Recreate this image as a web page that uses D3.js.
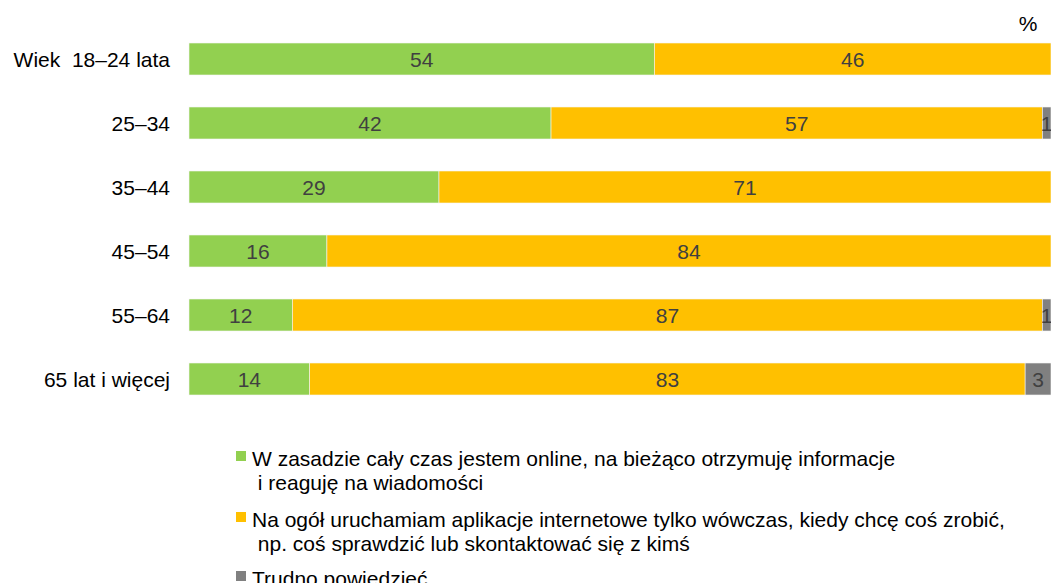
<!DOCTYPE html>
<html lang="pl">
<head>
  <meta charset="UTF-8">
  <title>Korzystanie z internetu wg wieku</title>
  <script src="https://d3js.org/d3.v7.min.js"></script>
  <style>
    body { margin: 0; background: #fff; }
    svg text { font-family: "Liberation Sans", Arial, sans-serif; white-space: pre; }
  </style>
</head>
<body>
<svg width="1051" height="583"></svg>
<script>
  const categories = ["Wiek  18–24 lata", "25–34", "35–44", "45–54", "55–64", "65 lat i więcej"];
  const online = [54, 42, 29, 16, 12, 14];
  const onDemand = [46, 57, 71, 84, 87, 83];
  const hardToSay = [0, 1, 0, 0, 1, 3];
  const seriesNames = [
    ["W zasadzie cały czas jestem online, na bieżąco otrzymuję informacje", " i reaguję na wiadomości"],
    ["Na ogół uruchamiam aplikacje internetowe tylko wówczas, kiedy chcę coś zrobić,", " np. coś sprawdzić lub skontaktować się z kimś"],
    ["Trudno powiedzieć"]
  ];
  const colors = ["#92d050", "#ffc000", "#808080"];

  const svg = d3.select("svg");
  const fs = 21;

  const x = d3.scaleLinear().domain([0, 100]).range([189, 1051]);
  const y = d3.scaleBand().domain(categories).range([27, 411]).paddingInner(0.5).paddingOuter(0.25);

  const rows = categories.map((c, i) => ({cat: c, values: [online[i], onDemand[i], hardToSay[i]]}));

  const stack = d3.stack().keys([0, 1, 2]).value((d, k) => d.values[k]);
  const series = stack(rows);

  const g = svg.append("g");
  series.forEach((s, k) => {
    const sg = g.append("g");
    sg.selectAll("rect")
      .data(s.filter(d => d[1] > d[0]))
      .enter()
      .append("rect")
      .attr("x", d => x(d[0]))
      .attr("y", d => y(d.data.cat))
      .attr("width", d => x(d[1]) - x(d[0]))
      .attr("height", y.bandwidth())
      .attr("fill", colors[k])
      .attr("stroke", "#f4f4f4")
      .attr("stroke-width", 0.6);
    sg.selectAll("text")
      .data(s.filter(d => d[1] > d[0]))
      .enter()
      .append("text")
      .attr("x", d => (x(d[0]) + x(d[1])) / 2)
      .attr("y", d => y(d.data.cat) + y.bandwidth() / 2)
      .attr("dy", "0.36em")
      .attr("text-anchor", "middle")
      .attr("font-size", fs)
      .attr("fill", "#404040")
      .text(d => d[1] - d[0]);
  });

  // category labels
  svg.append("g").selectAll("text")
    .data(categories)
    .enter()
    .append("text")
    .attr("x", 170)
    .attr("y", d => y(d) + y.bandwidth() / 2)
    .attr("dy", "0.36em")
    .attr("text-anchor", "end")
    .attr("font-size", fs)
    .attr("fill", "#000")
    .text(d => d);

  svg.append("text")
    .attr("x", 1028)
    .attr("y", 31)
    .attr("text-anchor", "middle")
    .attr("font-size", fs)
    .text("%");

  // legend
  const legendY = [458, 519, 578];
  const legend = svg.append("g");
  seriesNames.forEach((lines, k) => {
    legend.append("rect")
      .attr("x", 236)
      .attr("y", legendY[k] - 7)
      .attr("width", 10)
      .attr("height", 10)
      .attr("fill", colors[k]);
    lines.forEach((ln, j) => {
      legend.append("text")
        .attr("x", 252)
        .attr("y", legendY[k] + j * 24)
        .attr("dy", "0.36em")
        .attr("font-size", fs)
        .attr("fill", "#000")
        .text(ln);
    });
  });
</script>
</body>
</html>
